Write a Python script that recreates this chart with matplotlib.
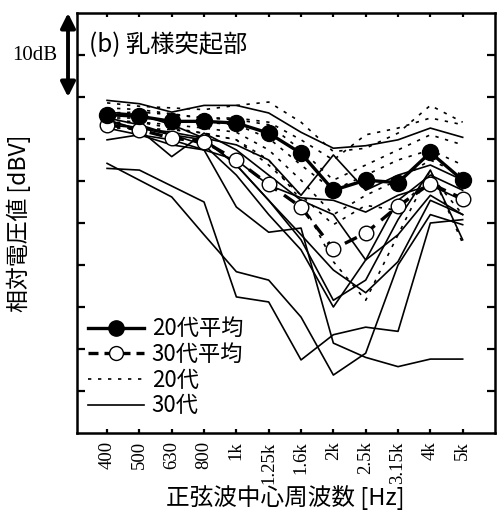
import numpy as np
import matplotlib
matplotlib.use("Agg")
import matplotlib.pyplot as plt

plt.rcParams['font.family'] = ['Noto Sans CJK JP', 'DejaVu Sans']

freqs = ["400", "500", "630", "800", "1k", "1.25k", "1.6k", "2k", "2.5k", "3.15k", "4k", "5k"]

# averages (dB, relative)
mean20 = [-12.1, -12.3, -12.9, -12.9, -13.1, -14.3, -16.7, -21.1, -19.9, -20.2, -16.6, -19.9]
mean30 = [-13.3, -13.9, -14.9, -15.3, -17.5, -20.4, -23.1, -28.1, -26.2, -23.0, -20.3, -22.1]

# individual subjects, 20s (dotted)
d20 = [
    [-10.7, -11.1, -11.3, -11.5, -11.0, -10.6, -13.0, -16.5, -16.1, -14.3, -11.0, -13.0],
    [-11.3, -11.5, -12.0, -12.5, -12.5, -13.0, -15.1, -17.5, -14.5, -13.7, -12.5, -13.3],
    [-11.9, -11.8, -12.1, -12.5, -12.7, -13.3, -16.3, -19.9, -18.1, -16.3, -14.5, -15.7],
    [-12.5, -12.5, -12.7, -13.0, -13.3, -14.9, -18.1, -21.1, -19.3, -17.5, -16.3, -18.1],
    [-13.1, -13.0, -13.3, -13.7, -14.2, -16.3, -19.9, -24.0, -21.7, -19.9, -17.5, -19.3],
    [-13.7, -13.7, -13.9, -14.3, -15.1, -18.1, -21.7, -25.2, -22.9, -23.5, -19.3, -24.0],
    [-12.7, -13.0, -13.7, -14.3, -15.1, -17.5, -22.3, -29.6, -34.2, -26.4, -18.7, -27.4],
]

# individual subjects, 30s (solid)
d30 = [
    [-10.4, -10.8, -11.8, -11.0, -11.0, -11.9, -14.2, -16.1, -15.8, -15.1, -13.7, -14.8],
    [-17.9, -19.9, -21.9, -26.4, -30.8, -31.8, -36.2, -43.1, -40.5, -30.0, -24.0, -25.2],
    [-18.5, -18.7, -20.6, -22.5, -33.8, -34.4, -41.3, -38.3, -37.4, -37.9, -25.0, -24.6],
    [-15.1, -14.5, -15.1, -16.3, -23.1, -26.1, -25.6, -39.3, -41.0, -42.1, -41.2, -41.2],
    [-12.5, -13.3, -14.5, -15.7, -19.3, -24.0, -28.2, -35.0, -29.4, -26.4, -21.7, -24.0],
    [-11.8, -12.1, -13.3, -14.9, -18.1, -22.3, -27.0, -34.2, -31.8, -24.6, -18.7, -27.0],
    [-12.7, -13.9, -17.1, -14.3, -16.3, -19.3, -22.3, -24.0, -29.4, -22.3, -19.3, -21.1],
    [-13.0, -13.7, -14.5, -15.1, -18.1, -22.3, -26.4, -30.6, -33.3, -29.6, -22.3, -24.0],
    [-13.7, -14.5, -15.7, -16.3, -17.5, -20.5, -22.0, -22.3, -23.7, -21.7, -20.5, -22.3],
    [-13.3, -13.7, -14.2, -14.9, -15.7, -17.5, -21.7, -16.9, -21.1, -19.3, -18.1, -19.9],
]

x = np.arange(len(freqs))

fig = plt.figure(figsize=(4.97, 5.24), dpi=100)
ax = fig.add_axes([77/497, 1-433/524, 418/497, 420/524])

for row in d20:
    ax.plot(x, row, color='k', lw=1.2, ls=(0, (2, 4)), zorder=1)
for row in d30:
    ax.plot(x, row, color='k', lw=1.2, ls='-', zorder=1)

ax.plot(x, mean20, color='k', lw=2.4, marker='o', ms=11.5, mfc='k', mec='k', zorder=4)
ax.plot(x, mean30, color='k', lw=2.4, ls=(0, (4, 2.5)), marker='o', ms=10.5,
        mfc='white', mec='k', mew=1.0, zorder=3)

# legend proxies
h1, = ax.plot([], [], color='k', lw=2.4, marker='o', ms=11, mfc='k', mec='k')
h2, = ax.plot([], [], color='k', lw=2.4, ls=(0, (3.0, 1.8)), marker='o', ms=10,
              mfc='white', mec='k', mew=1.0)
h3, = ax.plot([], [], color='k', lw=1.2, ls=(0, (2, 4)))
h4, = ax.plot([], [], color='k', lw=1.2, ls='-')
ax.legend([h1, h2, h3, h4], ["20代平均", "30代平均", "20代", "30代"],
          loc='lower left', bbox_to_anchor=(-0.01, 0.0), frameon=False,
          fontsize=16, handlelength=2.5, handletextpad=0.35, labelspacing=0.12,
          borderaxespad=0.3, numpoints=1)

ax.set_xlim(-0.93, 12)
ax.set_ylim(-50, 0)
ax.set_xticks(x)
ax.set_xticklabels(freqs, rotation=90, family='Liberation Serif', fontsize=13.5, va='top')
ax.set_yticks(np.arange(-45, 0, 5))
ax.set_yticklabels([])
ax.tick_params(axis='both', direction='in', length=6, width=1.6, pad=6)
ax.tick_params(axis='y', right=True)
ax.tick_params(axis='x', top=True, length=3)
for s in ax.spines.values():
    s.set_linewidth(1.8)

ax.set_ylabel("相対電圧値 [dBV]", fontsize=16.5)
ax.yaxis.set_label_coords(-0.11, 0.5)
fig.text(285/497, 1-498/524, "正弦波中心周波数 [Hz]", fontsize=17, ha='center', va='center')

ax.text(0.028, 0.924, "(b) 乳様突起部", transform=ax.transAxes, fontsize=17.5,
        ha='left', va='center')

# 10 dB scale arrow
ax.annotate('', xy=(-0.0215, 0), xytext=(-0.0215, -10),
            xycoords=('axes fraction', 'data'), textcoords=('axes fraction', 'data'),
            arrowprops=dict(arrowstyle='<|-|>', lw=2.8, color='k', mutation_scale=22,
                            shrinkA=0, shrinkB=0),
            annotation_clip=False)
ax.text(-0.048, -5, "10dB", transform=ax.get_yaxis_transform(), ha='right', va='center',
        family='Liberation Serif', fontsize=15)

fig.savefig("out.png", dpi=100)
